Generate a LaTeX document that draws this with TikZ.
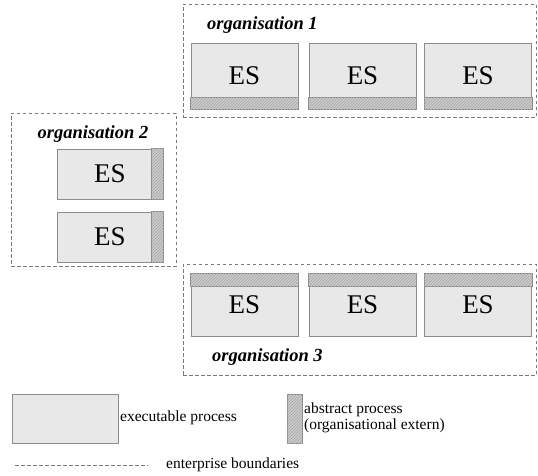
\documentclass[tikz,border=0pt]{standalone}
\usepackage{fontspec}
\setmainfont{Liberation Serif}
\usepackage{tikz}
\usetikzlibrary{positioning,patterns,calc}

\definecolor{esfill}{HTML}{E8E8E8}
\definecolor{esline}{HTML}{8C8C8C}
\definecolor{frameline}{HTML}{7A7A7A}

\begin{document}
\begin{tikzpicture}[x=1pt,y=-1pt,
    esbox/.style={draw=esline, line width=1pt, fill=esfill, inner sep=0pt,
        font=\fontsize{27}{30}\selectfont},
    orgframe/.style={draw=frameline, line width=0.8pt, dash pattern=on 3.5pt off 2.5pt, inner sep=0pt},
    orglabel/.style={font=\fontsize{18.5}{20}\selectfont\bfseries\itshape, inner sep=0pt},
    abstract/.style={draw=esline, line width=0.8pt, fill=gray!40,
        postaction={pattern=north east lines, pattern color=gray!70}},
    legtext/.style={font=\fontsize{15.5}{16}\selectfont, inner sep=0pt, anchor=west}]
            \useasboundingbox (0,0) rectangle (538,475);

            % organisation 1
            \node[orgframe, minimum width=353pt, minimum height=113pt] (org1) at (359.5,60.5) {};
            \node[orglabel, anchor=west] (lab1) at (207,25) {organisation 1};
            \node[esbox, minimum width=107pt, minimum height=66pt] (es11) at (244.5,76) {ES};
            \node[esbox, minimum width=107pt, minimum height=66pt] (es12) at (362.5,76) {ES};
            \node[esbox, minimum width=107pt, minimum height=66pt] (es13) at (478,76) {ES};
            \draw[abstract] (es11.south west) rectangle ($(es11.south east)+(0,-12)$);
            \draw[abstract] (es12.south west) rectangle ($(es12.south east)+(0,-12)$);
            \draw[abstract] (es13.south west) rectangle ($(es13.south east)+(0,-12)$);

            % organisation 2
            \node[orgframe, minimum width=165pt, minimum height=153pt] (org2) at (93.5,189.5) {};
            \node[orglabel] (lab2) at (93,134) {organisation 2};
            \node[esbox, minimum width=106pt, minimum height=50pt] (es21) at (110,174) {ES};
            \node[esbox, minimum width=106pt, minimum height=50pt] (es22) at (110,237) {ES};
            \draw[abstract] (es21.north east) rectangle ($(es21.south east)+(-12,0)$);
            \draw[abstract] (es22.north east) rectangle ($(es22.south east)+(-12,0)$);

            % organisation 3
            \node[orgframe, minimum width=353pt, minimum height=111pt] (org3) at (359.5,319.5) {};
            \node[orglabel, anchor=west] (lab3) at (212,357) {organisation 3};
            \node[esbox, minimum width=107pt, minimum height=62pt] (es31) at (244.5,305) {ES};
            \node[esbox, minimum width=107pt, minimum height=62pt] (es32) at (362.5,305) {ES};
            \node[esbox, minimum width=107pt, minimum height=62pt] (es33) at (478,305) {ES};
            \draw[abstract] (es31.north west) rectangle ($(es31.north east)+(0,13)$);
            \draw[abstract] (es32.north west) rectangle ($(es32.north east)+(0,13)$);
            \draw[abstract] (es33.north west) rectangle ($(es33.north east)+(0,13)$);

            % legend
            \node[esbox, minimum width=106pt, minimum height=49pt] (legexec) at (65,418.5) {};
            \node[legtext] (legexectext) at (120,418) {executable process};
            \node[abstract, inner sep=0pt, minimum width=15pt, minimum height=49pt] (legabs) at (294.5,418.5) {};
            \node[legtext, align=left] (legabstext) at (304,417.5) {abstract process\\(organisational extern)};
            \coordinate (legdashA) at (15,465);
            \coordinate (legdashB) at (148,465);
            \draw[orgframe] (legdashA) -- (legdashB);
            \node[legtext] (legdashtext) at (166,465) {enterprise boundaries};
        \end{tikzpicture}
\end{document}
